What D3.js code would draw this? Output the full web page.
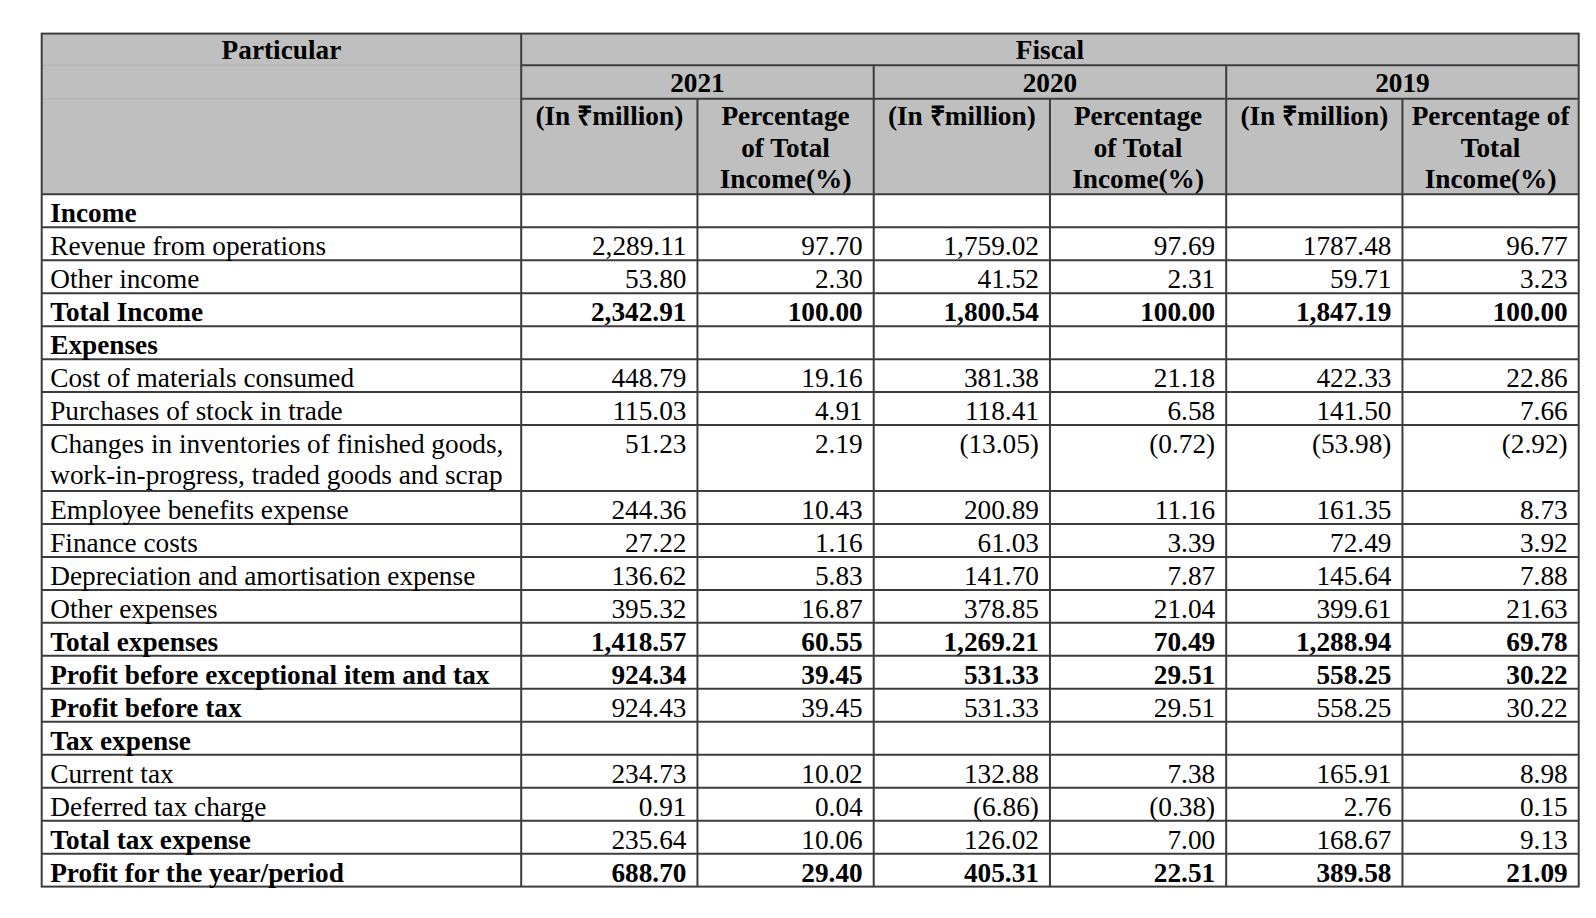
<!DOCTYPE html>
<html>
<head>
<meta charset="utf-8">
<script src="https://cdn.jsdelivr.net/npm/d3@7"></script>
<style>
  html, body { margin: 0; padding: 0; background: #fff; }
  svg { display: block; }
  text { font-family: "Liberation Serif", "Times New Roman", serif; fill: #000; }
</style>
</head>
<body>
<svg id="chart" width="1596" height="918"></svg>
<script>
// ---------------- DATA ----------------
const topHeader = "Fiscal";
const cornerHeader = "Particular";
const years = ["2021", "2020", "2019"];
const subHeaders = [
  ["(In ₹million)"], ["Percentage", "of Total", "Income(%)"],
  ["(In ₹million)"], ["Percentage", "of Total", "Income(%)"],
  ["(In ₹million)"], ["Percentage of", "Total", "Income(%)"]
];
const particulars = [
  "Income",
  "Revenue from operations",
  "Other income",
  "Total Income",
  "Expenses",
  "Cost of materials consumed",
  "Purchases of stock in trade",
  "Changes in inventories of finished goods,\nwork-in-progress, traded goods and scrap",
  "Employee benefits expense",
  "Finance costs",
  "Depreciation and amortisation expense",
  "Other expenses",
  "Total expenses",
  "Profit before exceptional item and tax",
  "Profit before tax",
  "Tax expense",
  "Current tax",
  "Deferred tax charge",
  "Total tax expense",
  "Profit for the year/period"
];
const amount2021 = ["", "2,289.11", "53.80", "2,342.91", "", "448.79", "115.03", "51.23", "244.36", "27.22", "136.62", "395.32", "1,418.57", "924.34", "924.43", "", "234.73", "0.91", "235.64", "688.70"];
const pct2021    = ["", "97.70", "2.30", "100.00", "", "19.16", "4.91", "2.19", "10.43", "1.16", "5.83", "16.87", "60.55", "39.45", "39.45", "", "10.02", "0.04", "10.06", "29.40"];
const amount2020 = ["", "1,759.02", "41.52", "1,800.54", "", "381.38", "118.41", "(13.05)", "200.89", "61.03", "141.70", "378.85", "1,269.21", "531.33", "531.33", "", "132.88", "(6.86)", "126.02", "405.31"];
const pct2020    = ["", "97.69", "2.31", "100.00", "", "21.18", "6.58", "(0.72)", "11.16", "3.39", "7.87", "21.04", "70.49", "29.51", "29.51", "", "7.38", "(0.38)", "7.00", "22.51"];
const amount2019 = ["", "1787.48", "59.71", "1,847.19", "", "422.33", "141.50", "(53.98)", "161.35", "72.49", "145.64", "399.61", "1,288.94", "558.25", "558.25", "", "165.91", "2.76", "168.67", "389.58"];
const pct2019    = ["", "96.77", "3.23", "100.00", "", "22.86", "7.66", "(2.92)", "8.73", "3.92", "7.88", "21.63", "69.78", "30.22", "30.22", "", "8.98", "0.15", "9.13", "21.09"];

// ---------------- LAYOUT / STYLE ----------------
const columns = [amount2021, pct2021, amount2020, pct2020, amount2019, pct2019];
const boldLabelRows = new Set(["Income", "Total Income", "Expenses", "Total expenses",
  "Profit before exceptional item and tax", "Profit before tax", "Tax expense",
  "Total tax expense", "Profit for the year/period"]);
const boldValueRows = new Set(["Total Income", "Total expenses",
  "Profit before exceptional item and tax", "Profit for the year/period"]);

const FS = 26.5, SX = 1.03;
const LINE = "#3c3c3c", LW = 2, HEADER_BG = "#bfbfbf";
const tableLeft = 41.7, tableRight = 1578.7, labelRight = 521.2;
const yTop = 33.6, yFiscal = 65.3, yYear = 98.7, yHead = 194.3, yBottom = 886.6;

const svg = d3.select("#chart");

// x scale for value column edges
const x = d3.scaleLinear().domain([0, columns.length]).range([labelRight, tableRight]);

// y scale for data rows (units, with multi-line rows)
const units = particulars.map(p => p.split("\n").length);
const cum = [0]; units.forEach(u => cum.push(cum[cum.length - 1] + u));
const y = d3.scaleLinear().domain([0, cum[cum.length - 1]]).range([yHead, yBottom]);

// header background
svg.append("rect").attr("x", tableLeft).attr("y", yTop)
  .attr("width", tableRight - tableLeft).attr("height", yHead - yTop).attr("fill", HEADER_BG);

// faint lines inside the merged "Particular" cell
[yFiscal, yYear].forEach(yy => svg.append("line")
  .attr("x1", tableLeft).attr("x2", labelRight).attr("y1", yy).attr("y2", yy)
  .attr("stroke", "#b5b5b5").attr("stroke-width", 1.5));

function txt(xx, yy, s, anchor, bold) {
  svg.append("text")
    .attr("transform", `translate(${xx},${yy}) scale(${SX},1)`)
    .attr("text-anchor", anchor)
    .attr("font-size", FS)
    .attr("font-weight", bold ? "bold" : "normal")
    .text(s);
}

// grid lines
const g = svg.append("g").attr("stroke", LINE).attr("stroke-width", LW).attr("fill", "none");
function hl(x1, x2, yy) { g.append("line").attr("x1", x1).attr("x2", x2).attr("y1", yy).attr("y2", yy); }
function vl(xx, y1, y2) { g.append("line").attr("x1", xx).attr("x2", xx).attr("y1", y1).attr("y2", y2); }

g.append("rect").attr("x", tableLeft).attr("y", yTop)
  .attr("width", tableRight - tableLeft).attr("height", yBottom - yTop);
hl(labelRight, tableRight, yFiscal);
hl(labelRight, tableRight, yYear);
hl(tableLeft, tableRight, yHead);
vl(labelRight, yTop, yBottom);
years.forEach((yr, i) => { if (i > 0) vl(x(i * 2), yFiscal, yBottom); });
columns.forEach((c, i) => { if (i % 2 === 1) vl(x(i), yYear, yBottom); });
cum.slice(1, -1).forEach(c => hl(tableLeft, tableRight, y(c)));

// header text
txt((tableLeft + labelRight) / 2, yTop + 25.5, cornerHeader, "middle", true);
txt((labelRight + tableRight) / 2, yTop + 25.5, topHeader, "middle", true);
years.forEach((yr, i) => txt((x(i * 2) + x(i * 2 + 2)) / 2, yFiscal + 26.5, yr, "middle", true));
subHeaders.forEach((lines, i) => {
  lines.forEach((ln, j) => txt((x(i) + x(i + 1)) / 2, yYear + 26.5 + j * 31.3, ln, "middle", true));
});

// body
particulars.forEach((p, r) => {
  const top = y(cum[r]);
  const lines = p.split("\n");
  lines.forEach((ln, j) => txt(tableLeft + 8.5, top + 28 + j * 30.5, ln, "start", boldLabelRows.has(p)));
  columns.forEach((col, c) => {
    if (col[r]) txt(x(c + 1) - 11, top + 28, col[r], "end", boldValueRows.has(p));
  });
});
</script>
</body>
</html>
